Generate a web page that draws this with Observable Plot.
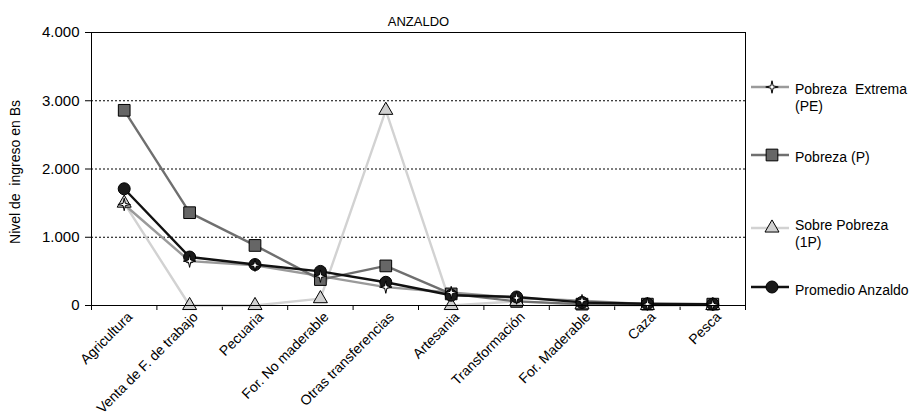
<!DOCTYPE html>
<html>
<head>
<meta charset="utf-8">
<script src="https://cdn.jsdelivr.net/npm/d3@7"></script>
<script src="https://cdn.jsdelivr.net/npm/@observablehq/plot@0.6"></script>
<style>
  html, body { margin: 0; padding: 0; background: #fff; }
</style>
</head>
<body>
<div id="chart"></div>
<script>
const title = "ANZALDO";
const yLabel = "Nivel de  ingreso en Bs";
const categories = ["Agricultura", "Venta de F. de trabajo", "Pecuaria", "For. No maderable", "Otras transferencias", "Artesania", "Transformación", "For. Maderable", "Caza", "Pesca"];
const seriesNames = ["Pobreza  Extrema\n(PE)", "Pobreza (P)", "Sobre Pobreza\n(1P)", "Promedio Anzaldo"];
const pobrezaExtrema = [1480, 650, 590, 430, 270, 190, 110, 70, 20, 15];
const pobreza = [2860, 1360, 880, 380, 580, 170, 60, 20, 20, 20];
const sobrePobreza = [1500, 0, 0, 100, 2860, 0, 60, 10, 0, 0];
const promedio = [1710, 710, 600, 500, 340, 150, 125, 45, 25, 20];
const yTicks = [0, 1000, 2000, 3000, 4000];
const gridValues = [1000, 2000, 3000];

const font = "'Liberation Sans', Arial, sans-serif";

// 4-point star symbol
const star4 = {
  draw(ctx, size) {
    const r = Math.sqrt(size / Math.PI);
    const R = r * 1.25, q = r * 0.32;
    for (let k = 0; k < 8; k++) {
      const a = -Math.PI / 2 + k * Math.PI / 4;
      const rr = k % 2 === 0 ? R : q;
      const px = rr * Math.cos(a), py = rr * Math.sin(a);
      if (k === 0) ctx.moveTo(px, py); else ctx.lineTo(px, py);
    }
    ctx.closePath();
  }
};

const styles = [
  {values: pobrezaExtrema, line: "#9a9a9a", fill: "#ffffff", symbol: star4, r: 5},
  {values: pobreza, line: "#6f6f6f", fill: "#666666", symbol: "square", r: 6.6},
  {values: sobrePobreza, line: "#d2d2d2", fill: "#d0d0d0", symbol: "triangle", r: 5.2},
  {values: promedio, line: "#111111", fill: "#1a1a1a", symbol: "circle", r: 6}
];

const rows = s => categories.map((c, i) => ({i, c, v: s.values[i]}));

const lineOrder = [2, 0, 1, 3];
const dotOrder = [1, 2, 3, 0];

const marks = [
  Plot.ruleY(gridValues, {stroke: "#000", strokeWidth: 1, strokeDasharray: "2,2"}),
  Plot.ruleY([4000], {stroke: "#000", strokeWidth: 1}),
  Plot.ruleX([9.5], {stroke: "#000", strokeWidth: 1}),
  Plot.axisY(yTicks, {tickSize: 6, tickPadding: 6, tickFormat: d => d === 0 ? "0" : (d / 1000) + ".000", fontSize: 15, label: null}),
  Plot.axisX(d3.range(-0.5, 10, 1), {tickSize: 5, tickFormat: () => "", label: null}),
  Plot.axisX(d3.range(10), {tickSize: 0, tickRotate: -45, tickPadding: 9, dx: 6, fontSize: 14, tickFormat: i => categories[i], label: null}),
  ...lineOrder.map(k => Plot.line(rows(styles[k]), {x: "i", y: "v", stroke: styles[k].line, strokeWidth: 2.4})),
  ...dotOrder.map(k => Plot.dot(rows(styles[k]), {x: "i", y: "v", symbol: () => styles[k].symbol, r: styles[k].r, fill: styles[k].fill, stroke: "#000", strokeWidth: 1})),
  Plot.ruleX([-0.5], {stroke: "#000", strokeWidth: 1}),
  Plot.ruleY([0], {stroke: "#000", strokeWidth: 1}),
  Plot.text([title], {frameAnchor: "top", dy: -16, fontSize: 13, fill: "#000"}),
  Plot.text([yLabel], {frameAnchor: "left", textAnchor: "middle", rotate: -90, dx: -76, dy: 3, fontSize: 14, fill: "#000"})
];

const chart = Plot.plot({
  width: 911,
  height: 419,
  marginLeft: 91,
  marginRight: 166,
  marginTop: 32,
  marginBottom: 114,
  style: {fontFamily: font, fontSize: "14px", color: "#000", background: "#fff", overflow: "visible"},
  x: {type: "linear", domain: [-0.5, 9.5], axis: null},
  y: {domain: [0, 4000], axis: null},
  symbol: {type: "identity"},
  marks
});

// Legend
const svg = d3.select(chart);
const legendPos = [
  {ly: 87, lines: [89, 106]},
  {ly: 155, lines: [157]},
  {ly: 228, lines: [225, 242]},
  {ly: 287, lines: [290]}
];
const symType = s => s === "square" ? d3.symbolSquare : s === "triangle" ? d3.symbolTriangle : s === "circle" ? d3.symbolCircle : s;
const lg = svg.append("g").attr("font-family", font).attr("font-size", 14).attr("text-anchor", "start");
styles.forEach((s, k) => {
  const p = legendPos[k];
  lg.append("line").attr("x1", 751).attr("x2", 789).attr("y1", p.ly).attr("y2", p.ly)
    .attr("stroke", s.line).attr("stroke-width", 2.5);
  lg.append("path").attr("transform", `translate(772,${p.ly})`)
    .attr("d", d3.symbol(symType(s.symbol), Math.PI * s.r * s.r)())
    .attr("fill", s.fill).attr("stroke", "#000").attr("stroke-width", 1);
  seriesNames[k].split("\n").forEach((t, j) => {
    lg.append("text").attr("x", 795).attr("y", p.lines[j]).attr("dy", "0.35em")
      .attr("text-anchor", "start").attr("fill", "#000").style("white-space", "pre").text(t);
  });
});

document.getElementById("chart").appendChild(chart);
</script>
</body>
</html>
